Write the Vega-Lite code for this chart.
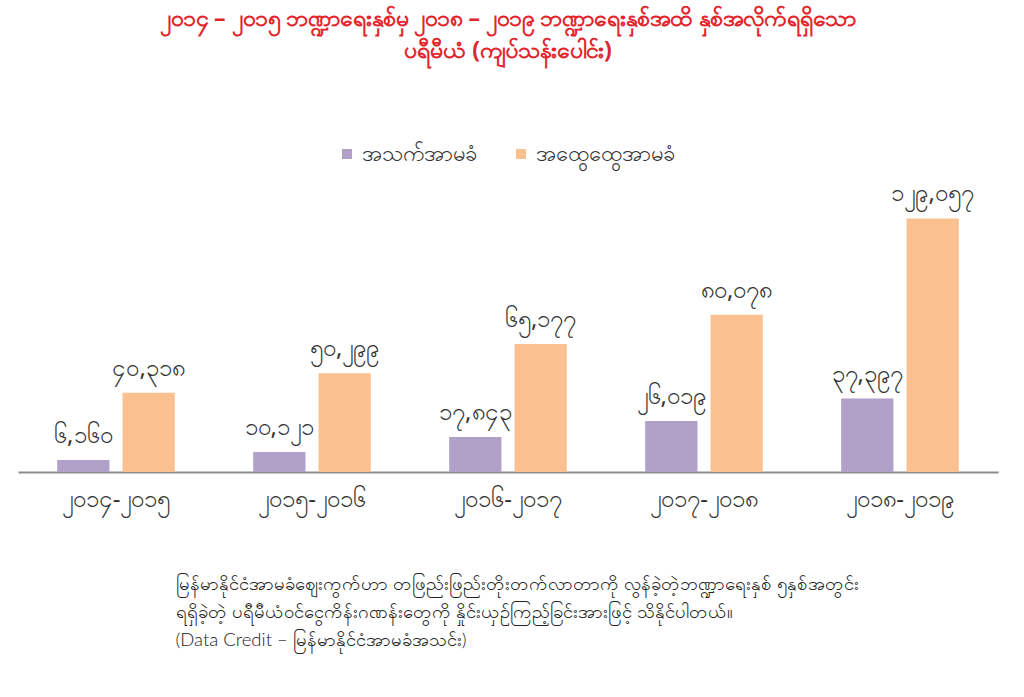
{
  "$schema": "https://vega.github.io/schema/vega-lite/v6.json",
  "width": 980,
  "height": 275,
  "padding": {"left": 18, "top": 8, "right": 10, "bottom": 10},
  "background": "white",
  "config": {
    "font": "Noto Sans",
    "view": {"stroke": null}
  },
  "title": {
    "text": ["၂၀၁၄ – ၂၀၁၅ ဘဏ္ဍာရေးနှစ်မှ ၂၀၁၈ – ၂၀၁၉ ဘဏ္ဍာရေးနှစ်အထိ နှစ်အလိုက်ရရှိသော", "ပရီမီယံ (ကျပ်သန်းပေါင်း)"],
    "fontSize": 23,
    "fontWeight": "bold",
    "color": "#e3242b",
    "lineHeight": 32,
    "anchor": "middle",
    "offset": 80
  },
  "data": {
    "values": [
      {"year": "၂၀၁၄-၂၀၁၅", "type": "အသက်အာမခံ", "premium": 6160, "label": "၆,၁၆၀"},
      {"year": "၂၀၁၄-၂၀၁၅", "type": "အထွေထွေအာမခံ", "premium": 40318, "label": "၄၀,၃၁၈"},
      {"year": "၂၀၁၅-၂၀၁၆", "type": "အသက်အာမခံ", "premium": 10121, "label": "၁၀,၁၂၁"},
      {"year": "၂၀၁၅-၂၀၁၆", "type": "အထွေထွေအာမခံ", "premium": 50299, "label": "၅၀,၂၉၉"},
      {"year": "၂၀၁၆-၂၀၁၇", "type": "အသက်အာမခံ", "premium": 17843, "label": "၁၇,၈၄၃"},
      {"year": "၂၀၁၆-၂၀၁၇", "type": "အထွေထွေအာမခံ", "premium": 65177, "label": "၆၅,၁၇၇"},
      {"year": "၂၀၁၇-၂၀၁၈", "type": "အသက်အာမခံ", "premium": 26019, "label": "၂၆,၀၁၉"},
      {"year": "၂၀၁၇-၂၀၁၈", "type": "အထွေထွေအာမခံ", "premium": 80078, "label": "၈၀,၀၇၈"},
      {"year": "၂၀၁၈-၂၀၁၉", "type": "အသက်အာမခံ", "premium": 37397, "label": "၃၇,၃၉၇"},
      {"year": "၂၀၁၈-၂၀၁၉", "type": "အထွေထွေအာမခံ", "premium": 129057, "label": "၁၂၉,၀၅၇"}
    ]
  },
  "encoding": {
    "x": {
      "field": "year",
      "type": "nominal",
      "sort": null,
      "scale": {"paddingInner": 0.4, "paddingOuter": 0.2},
      "axis": {
        "labelAngle": 0,
        "labelFontSize": 24,
        "labelColor": "#333333",
        "labelPadding": 15,
        "ticks": false,
        "domainColor": "#8c8c8c",
        "domainWidth": 2,
        "title": ["မြန်မာနိုင်ငံအာမခံဈေးကွက်ဟာ တဖြည်းဖြည်းတိုးတက်လာတာကို လွန်ခဲ့တဲ့ဘဏ္ဍာရေးနှစ် ၅နှစ်အတွင်း", "ရရှိခဲ့တဲ့ ပရီမီယံဝင်ငွေကိန်းဂဏန်းတွေကို နှိုင်းယှဉ်ကြည့်ခြင်းအားဖြင့် သိနိုင်ပါတယ်။", "(Data Credit – မြန်မာနိုင်ငံအာမခံအသင်း)"],
        "titleFont": "Lato",
        "titleFontSize": 18.5,
        "titleFontWeight": 300,
        "titleColor": "#222222",
        "titleLineHeight": 28,
        "titleAnchor": "start",
        "titleAlign": "left",
        "titleBaseline": "top",
        "titleX": 157,
        "titleY": 102
      }
    },
    "xOffset": {
      "field": "type",
      "type": "nominal",
      "sort": ["အသက်အာမခံ", "အထွေထွေအာမခံ"],
      "scale": {"paddingInner": 0.2}
    },
    "y": {
      "field": "premium",
      "type": "quantitative",
      "scale": {"domain": [0, 140000]},
      "axis": null
    }
  },
  "layer": [
    {
      "mark": {"type": "bar"},
      "encoding": {
        "color": {
          "field": "type",
          "type": "nominal",
          "sort": ["အသက်အာမခံ", "အထွေထွေအာမခံ"],
          "scale": {"range": ["#b1a0c7", "#fac090"]},
          "legend": {
            "orient": "none",
            "legendX": 318,
            "legendY": -54,
            "direction": "horizontal",
            "title": null,
            "symbolType": "square",
            "symbolSize": 100,
            "labelFontSize": 22,
            "labelColor": "#333333",
            "columnPadding": 33
          }
        }
      }
    },
    {
      "mark": {"type": "text", "baseline": "bottom", "dy": -12, "fontSize": 24, "color": "#333333"},
      "encoding": {
        "text": {"field": "label"}
      }
    }
  ]
}
